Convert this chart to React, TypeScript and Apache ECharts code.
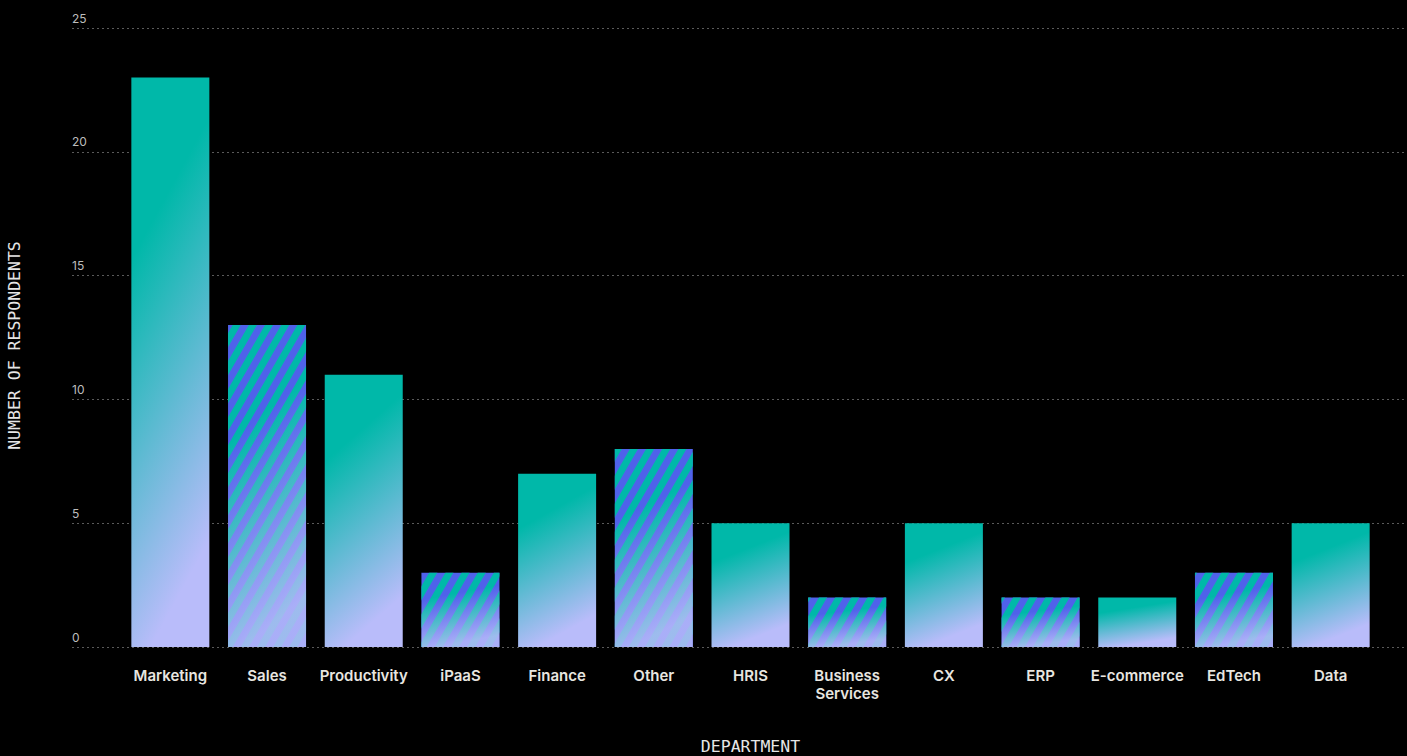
import React, { useEffect, useRef } from "react";
import * as echarts from "echarts";

const categories = [
  "Marketing",
  "Sales",
  "Productivity",
  "iPaaS",
  "Finance",
  "Other",
  "HRIS",
  "Business\nServices",
  "CX",
  "ERP",
  "E-commerce",
  "EdTech",
  "Data",
];
const respondents = [23, 13, 11, 3, 7, 8, 5, 2, 5, 2, 2, 3, 5];
const striped = [false, true, false, true, false, true, false, true, false, true, false, true, false];
const yTicks = { min: 0, max: 25, interval: 5 };

const TEAL = "#00b8a9";
const BLUE = "#4f62ea";
const LAVENDER = "#b9bcfa";

export default function App() {
  const ref = useRef<HTMLDivElement>(null);

  useEffect(() => {
    document.body.style.margin = "0";
    document.body.style.background = "#000";
    if (!ref.current) return;
    const chart = echarts.init(ref.current, undefined, { renderer: "svg" });

    const solidData = respondents.map((v, i) => (striped[i] ? "-" : v));
    const stripedData = respondents.map((v, i) => (striped[i] ? v : "-"));

    const solidGradient = new echarts.graphic.LinearGradient(0, 0, 0.25, 1, [
      { offset: 0, color: TEAL },
      { offset: 0.3, color: TEAL },
      { offset: 1, color: LAVENDER },
    ]);
    const overlayGradient = new echarts.graphic.LinearGradient(0, 0, 0.2, 1, [
      { offset: 0, color: "rgba(185,188,250,0)" },
      { offset: 0.35, color: "rgba(185,188,250,0)" },
      { offset: 1, color: "rgba(185,188,250,0.85)" },
    ]);

    const option: any = {
      animation: false,
      backgroundColor: "#000",
      grid: [
        { left: 72, right: 0, top: 28, bottom: 109, outerBoundsMode: "none", containLabel: false },
        { left: 122, right: 28, top: 28, bottom: 109, outerBoundsMode: "none", containLabel: false },
      ],
      xAxis: [
        { type: "value", gridIndex: 0, show: false, min: 0, max: 1 },
        {
          type: "category",
          gridIndex: 1,
          data: categories,
          axisLine: { show: false },
          axisTick: { show: false },
          axisLabel: {
            margin: 19,
            color: "#e8e6e0",
            fontFamily: "Inter",
            fontWeight: 600,
            fontSize: 15,
            lineHeight: 18,
            interval: 0,
          },
          name: "DEPARTMENT",
          nameLocation: "middle",
          nameGap: 91,
          nameTextStyle: {
            color: "#e6e6e6",
            fontFamily: "DejaVu Sans Mono",
            fontSize: 16.5,
            verticalAlign: "top",
          },
        },
      ],
      yAxis: [
        {
          type: "value",
          gridIndex: 0,
          min: yTicks.min,
          max: yTicks.max,
          interval: yTicks.interval,
          axisLine: { show: false },
          axisTick: { show: false },
          splitLine: {
            show: true,
            lineStyle: { color: "#5a5a5a", width: 1, type: [2, 3] },
          },
          axisLabel: {
            inside: true,
            margin: 0,
            align: "left",
            verticalAlign: "bottom",
            padding: [0, 0, 4, 0],
            color: "#bdbdbd",
            fontFamily: "Inter",
            fontSize: 12,
          },
          name: "NUMBER OF RESPONDENTS",
          nameLocation: "middle",
          nameGap: 49,
          nameRotate: 90,
          nameTextStyle: {
            color: "#e6e6e6",
            fontFamily: "DejaVu Sans Mono",
            fontSize: 16.5,
            padding: [0, 16, 0, 0],
          },
        },
        {
          type: "value",
          gridIndex: 1,
          min: yTicks.min,
          max: yTicks.max,
          interval: yTicks.interval,
          show: false,
          splitLine: { show: false },
        },
      ],
      series: [
        {
          type: "bar",
          xAxisIndex: 1,
          yAxisIndex: 1,
          data: solidData,
          barWidth: 78,
          barGap: "-100%",
          itemStyle: { color: solidGradient },
        },
        {
          type: "bar",
          xAxisIndex: 1,
          yAxisIndex: 1,
          data: stripedData,
          barWidth: 78,
          barGap: "-100%",
          itemStyle: {
            color: BLUE,
            decal: {
              symbol: "rect",
              symbolSize: 1,
              color: TEAL,
              dashArrayX: [1, 0],
              dashArrayY: [6.5, 6.5],
              rotation: -Math.PI / 3,
            },
          },
        },
        {
          type: "bar",
          xAxisIndex: 1,
          yAxisIndex: 1,
          data: stripedData,
          barWidth: 78,
          barGap: "-100%",
          silent: true,
          itemStyle: { color: overlayGradient },
        },
      ],
    };

    chart.setOption(option);
    return () => chart.dispose();
  }, []);

  return (
    <div
      ref={ref}
      style={{ position: "absolute", left: 0, top: 0, width: 1407, height: 756, background: "#000" }}
    />
  );
}
